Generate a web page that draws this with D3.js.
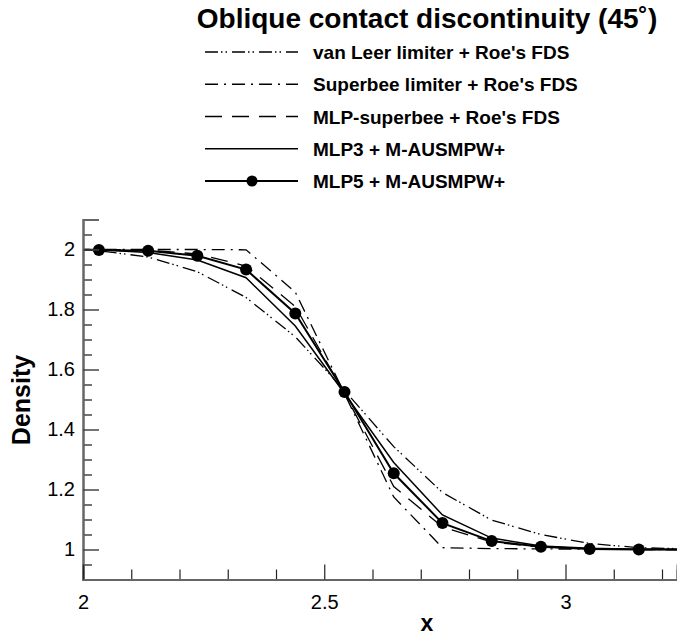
<!DOCTYPE html>
<html lang="en">
<head>
<meta charset="UTF-8">
<title>Oblique contact discontinuity</title>
<script src="https://cdn.jsdelivr.net/npm/d3@7"></script>
<style>
  body { margin: 0; background: #fff; }
  text { font-family: "Liberation Sans", Arial, Helvetica, sans-serif; fill: #000; }
</style>
</head>
<body>
<div id="chart"></div>
<script>
// cell centres along the cut, and density per scheme
var xCells      = [1.931, 2.033, 2.135, 2.237, 2.338, 2.440, 2.542, 2.644, 2.745, 2.847, 2.949, 3.050, 3.152, 3.254];
var vanLeer     = [2.0, 1.996, 1.975, 1.926, 1.840, 1.709, 1.530, 1.343, 1.190, 1.098, 1.050, 1.020, 1.006, 1.002];
var superbee    = [2.0, 2.0, 2.0, 2.0, 1.999, 1.858, 1.520, 1.175, 1.006, 1.003, 1.002, 1.001, 1.0, 1.0];
var mlpSuperbee = [2.0, 2.0, 1.998, 1.985, 1.945, 1.810, 1.520, 1.210, 1.075, 1.025, 1.008, 1.002, 1.0, 1.0];
var mlp3        = [2.0, 1.999, 1.990, 1.965, 1.906, 1.745, 1.520, 1.290, 1.115, 1.038, 1.012, 1.004, 1.001, 1.0];
var mlp5        = [2.0, 1.998, 1.996, 1.979, 1.933, 1.787, 1.525, 1.254, 1.088, 1.028, 1.009, 1.002, 1.0, 1.0];

var seriesNames = ["van Leer limiter + Roe's FDS", "Superbee limiter + Roe's FDS", "MLP-superbee + Roe's FDS", "MLP3 + M-AUSMPW+", "MLP5 + M-AUSMPW+"];
var xMajor = [2, 2.5, 3];
var yMajor = [1, 1.2, 1.4, 1.6, 1.8, 2];

var W = 677, H = 637;
var pLeft = 83, pRight = 677, pTop = 219.5, pBottom = 579.5;

var svg = d3.select("#chart").append("svg")
    .attr("width", W).attr("height", H);

var x = d3.scaleLinear().domain([2, 2 + (pRight - pLeft) / 482.5]).range([pLeft, pRight]);
var y = d3.scaleLinear().domain([0.9, 2.1]).range([pBottom, pTop]);

// line styles
var styles = [
  {data: vanLeer,     dash: "13,3,1.5,3,1.5,5", width: 1.3},
  {data: superbee,    dash: "13,6,2,6",         width: 1.3},
  {data: mlpSuperbee, dash: "17,10",            width: 1.3},
  {data: mlp3,        dash: null,               width: 1.5},
  {data: mlp5,        dash: null,               width: 2, marker: true}
];

svg.append("clipPath").attr("id", "plotclip")
  .append("rect").attr("x", pLeft).attr("y", pTop - 10).attr("width", pRight - pLeft).attr("height", pBottom - pTop + 10);

var line = d3.line()
    .x(function(d) { return x(d[0]); })
    .y(function(d) { return y(d[1]); });

var plot = svg.append("g").attr("clip-path", "url(#plotclip)");

styles.forEach(function(s) {
  var pts = xCells.map(function(v, i) { return [v, s.data[i]]; });
  plot.append("path")
      .datum(pts)
      .attr("d", line)
      .attr("fill", "none")
      .attr("stroke", "#000")
      .attr("stroke-width", s.width)
      .attr("stroke-dasharray", s.dash);
  if (s.marker) {
    plot.selectAll(null)
      .data(pts.filter(function(d) { return d[0] > 2 && d[0] < x.domain()[1]; }))
      .enter().append("circle")
        .attr("cx", function(d) { return x(d[0]); })
        .attr("cy", function(d) { return y(d[1]); })
        .attr("r", 6)
        .attr("fill", "#000");
  }
});

// axes: ticks point inward, minor and major on separate groups
var yMinor = d3.range(0.95, 2.1001, 0.05).filter(function(v) {
  return yMajor.every(function(m) { return Math.abs(m - v) > 1e-6; });
});
var xMinor = d3.range(2.1, x.domain()[1], 0.1).filter(function(v) {
  return xMajor.every(function(m) { return Math.abs(m - v) > 1e-6; });
});

var gyMinor = svg.append("g").attr("transform", "translate(" + pLeft + ",0)")
    .call(d3.axisLeft(y).tickValues(yMinor).tickSize(-9).tickFormat(""));
var gy = svg.append("g").attr("transform", "translate(" + pLeft + ",0)")
    .call(d3.axisLeft(y).tickValues(yMajor).tickSize(-16).tickPadding(8).tickFormat(d3.format("")));

var gxMinor = svg.append("g").attr("transform", "translate(0," + pBottom + ")")
    .call(d3.axisBottom(x).tickValues(xMinor).tickSize(-10).tickFormat(""));
var gx = svg.append("g").attr("transform", "translate(0," + pBottom + ")")
    .call(d3.axisBottom(x).tickValues(xMajor).tickSize(-15).tickPadding(15).tickFormat(d3.format("")));

svg.selectAll(".domain").attr("stroke", "#666").attr("stroke-width", 2);
gy.selectAll(".tick line").attr("stroke", "#444").attr("stroke-width", 1.5);
gyMinor.selectAll(".tick line").attr("stroke", "#444").attr("stroke-width", 1.5);
gx.selectAll(".tick line").attr("stroke", "#222").attr("stroke-width", 1.2);
gxMinor.selectAll(".tick line").attr("stroke", "#222").attr("stroke-width", 1.2);
svg.selectAll(".tick text")
    .style("font-family", "'Liberation Sans', Arial, sans-serif")
    .style("font-size", "20px").attr("fill", "#000");

// axis titles
svg.append("text")
    .attr("x", 427).attr("y", 631)
    .attr("text-anchor", "middle")
    .style("font-size", "23px").style("font-weight", "bold")
    .text("x");
svg.append("text")
    .attr("transform", "translate(30,400) rotate(-90)")
    .attr("text-anchor", "middle")
    .style("font-size", "25px").style("font-weight", "bold")
    .text("Density");

// title
svg.append("text")
    .attr("x", 427).attr("y", 28)
    .attr("text-anchor", "middle")
    .style("font-size", "28px").style("font-weight", "bold")
    .text("Oblique contact discontinuity (45\u02da)");

// legend
var rowY = d3.scaleLinear().domain([0, 4]).range([52, 181]);
var legend = svg.append("g");
styles.forEach(function(s, i) {
  var yy = rowY(i);
  legend.append("line")
      .attr("x1", 205).attr("x2", 298)
      .attr("y1", yy).attr("y2", yy)
      .attr("stroke", "#000")
      .attr("stroke-width", s.width)
      .attr("stroke-dasharray", s.dash);
  if (s.marker) {
    legend.append("circle").attr("cx", 252).attr("cy", yy).attr("r", 5.5).attr("fill", "#000");
  }
  legend.append("text")
      .attr("x", 313).attr("y", yy + 7)
      .style("font-size", "19px").style("font-weight", "bold")
      .text(seriesNames[i]);
});
</script>
</body>
</html>
